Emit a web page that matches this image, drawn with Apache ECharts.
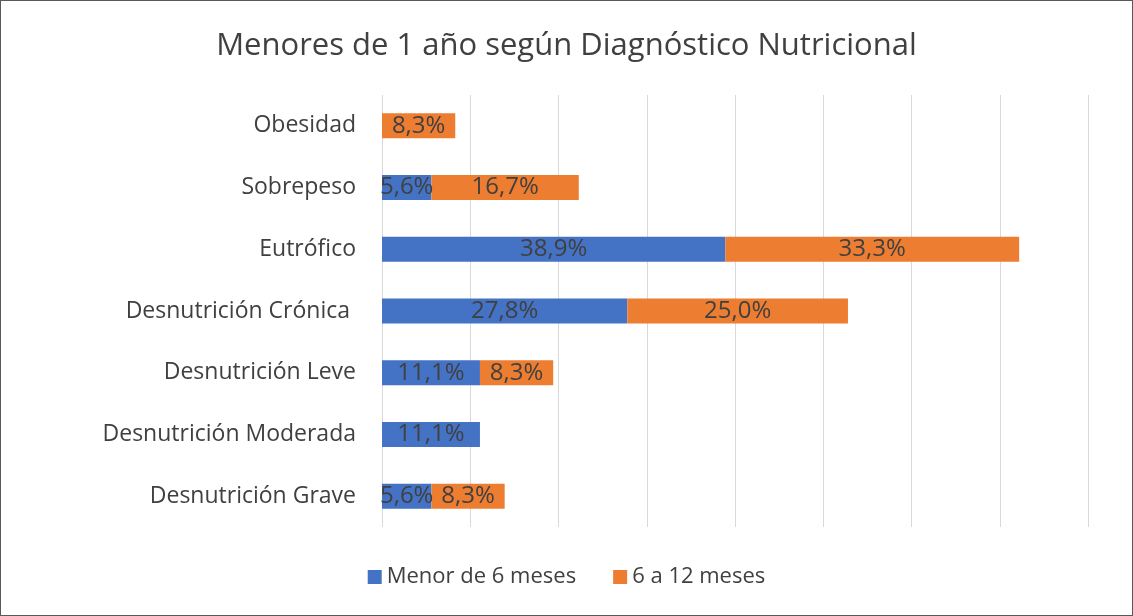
<!DOCTYPE html>
<html>
<head>
<meta charset="utf-8">
<script src="https://cdn.jsdelivr.net/npm/echarts@6/dist/echarts.min.js"></script>
<style>
  html, body { margin: 0; padding: 0; background: #fff; }
  #main { width: 1131px; height: 614px; border: 1px solid #595959; }
</style>
</head>
<body>
<div id="main"></div>
<script>
// datos del gráfico
var categorias = ['Desnutrición Grave', 'Desnutrición Moderada', 'Desnutrición Leve',
    'Desnutrición Crónica ', 'Eutrófico', 'Sobrepeso', 'Obesidad'];
var menor6 = [5.6, 11.1, 11.1, 27.8, 38.9, 5.6, 0];
var de6a12 = [8.3, 0, 8.3, 25.0, 33.3, 16.7, 8.3];
var nombresSeries = ['Menor de 6 meses', '6 a 12 meses'];

var fuente = 'Open Sans';
var myChart = echarts.init(document.getElementById('main'));

// oculta las etiquetas de valor cero
function etiqueta(p) {
    if (!p.value) return '';
    return p.value.toFixed(1).replace('.', ',') + '%';
}

var option = {
    animation: false,
    title: {
        text: 'Menores de 1 año según Diagnóstico Nutricional',
        left: 'center',
        top: 25,
        textStyle: { fontFamily: fuente, fontSize: 31, fontWeight: 'normal', color: '#404040' }
    },
    color: ['#4472C4', '#ED7D31'],
    legend: {
        bottom: 22,
        left: 'center',
        itemWidth: 14,
        itemHeight: 14,
        itemGap: 37,
        icon: 'rect',
        textStyle: { fontFamily: fuente, fontSize: 22, color: '#404040' },
        data: nombresSeries
    },
    grid: { left: 381, right: 44, top: 94, bottom: 88, containLabel: false },
    xAxis: {
        type: 'value',
        min: 0,
        max: 80,
        interval: 10,
        axisLabel: { show: false },
        axisLine: { show: false },
        axisTick: { show: false },
        splitLine: { lineStyle: { color: '#d9d9d9', width: 1 } }
    },
    yAxis: {
        type: 'category',
        data: categorias,
        axisLine: { show: false },
        axisTick: { show: false },
        axisLabel: { fontFamily: fuente, fontSize: 23, color: '#404040', margin: 26 }
    },
    series: [
        {
            name: nombresSeries[0],
            type: 'bar',
            stack: 'total',
            barWidth: 25,
            data: menor6,
            label: { show: true, position: 'inside', formatter: etiqueta,
                fontFamily: fuente, fontSize: 24, color: '#404040' }
        },
        {
            name: nombresSeries[1],
            type: 'bar',
            stack: 'total',
            barWidth: 25,
            data: de6a12,
            label: { show: true, position: 'inside', formatter: etiqueta,
                fontFamily: fuente, fontSize: 24, color: '#404040' }
        }
    ]
};

myChart.setOption(option);
</script>
</body>
</html>
